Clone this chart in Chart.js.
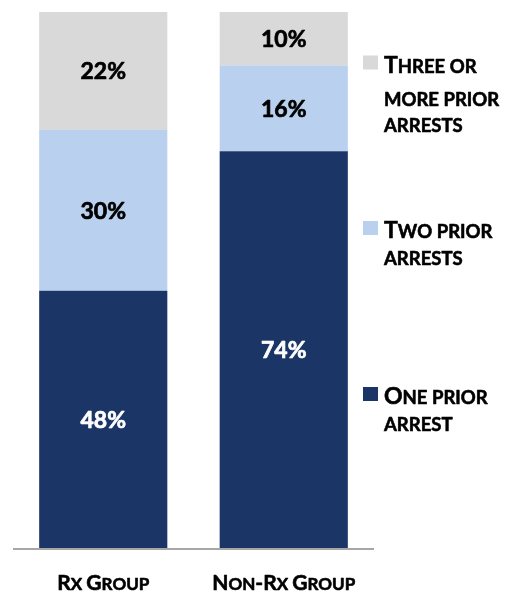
<!DOCTYPE html>
<html>
<head>
<meta charset="utf-8">
<script src="https://cdn.jsdelivr.net/npm/chart.js@4"></script>
<style>
  html, body { margin: 0; padding: 0; background: #fff; }
  #wrap { width: 514px; height: 594px; }
</style>
</head>
<body>
<div id="wrap"><canvas id="myChart" width="514" height="594"></canvas></div>
<script>
'use strict';

// data
var groups = ['Rx Group', 'Non-Rx Group'];
var seriesNames = ['One prior arrest', 'Two prior arrests', 'Three or more prior arrests'];
var onePrior = [48, 74];
var twoPrior = [30, 16];
var threePlus = [22, 10];

// legend text broken into lines like the picture
var legendLines = [
  ['Three or', 'more prior', 'arrests'],
  ['Two prior', 'arrests'],
  ['One prior', 'arrest']
];

var colors = ['#1B3566', '#B9D0EE', '#D9D9D9'];
var labelColors = ['#ffffff', '#000000', '#000000'];
var fontFamily = 'Lato, "Open Sans", sans-serif';

// split text into runs: capitals full size, lower case as smaller capitals
function smallCapsRuns(ctx, text, big, small) {
  var runs = [];
  for (var i = 0; i < text.length; i++) {
    var ch = text[i];
    var isLower = ch !== ch.toUpperCase();
    var size = isLower ? small : big;
    if (ch === ' ') size = small;
    ctx.font = 'bold ' + size + 'px ' + fontFamily;
    var t = ch.toUpperCase();
    runs.push({ t: t, font: ctx.font, w: ctx.measureText(t).width });
  }
  return runs;
}

function drawSmallCaps(ctx, text, x, y, big, small, align) {
  var runs = smallCapsRuns(ctx, text, big, small);
  var total = 0;
  runs.forEach(function (r) { total += r.w; });
  var cx = align === 'center' ? x - total / 2 : x;
  ctx.textAlign = 'left';
  runs.forEach(function (r) {
    ctx.font = r.font;
    ctx.fillText(r.t, cx, y);
    ctx.strokeText(r.t, cx, y);
    cx += r.w;
  });
}

// draws the % labels, baseline, group names and the legend
var extrasPlugin = {
  id: 'extras',
  afterDatasetsDraw: function (chart) {
    var ctx = chart.ctx;
    var area = chart.chartArea;
    var xScale = chart.scales.x;

    ctx.save();
    ctx.lineJoin = 'round';
    ctx.lineWidth = 0.7;
    // value labels
    ctx.textAlign = 'center';
    ctx.textBaseline = 'middle';
    ctx.font = 'bold 23px ' + fontFamily;
    chart.data.datasets.forEach(function (ds, i) {
      var meta = chart.getDatasetMeta(i);
      meta.data.forEach(function (bar, j) {
        var mid = (bar.y + bar.base) / 2;
        ctx.fillStyle = labelColors[i];
        ctx.strokeStyle = labelColors[i];
        ctx.fillText(ds.data[j] + '%', bar.x, mid + 1);
        ctx.strokeText(ds.data[j] + '%', bar.x, mid + 1);
      });
    });

    // baseline
    ctx.strokeStyle = '#A6A6A6';
    ctx.lineWidth = 2;
    ctx.beginPath();
    ctx.moveTo(area.left, area.bottom + 1);
    ctx.lineTo(area.right, area.bottom + 1);
    ctx.stroke();

    // group names
    ctx.fillStyle = '#000000';
    ctx.strokeStyle = '#000000';
    ctx.lineWidth = 0.6;
    ctx.textBaseline = 'alphabetic';
    groups.forEach(function (g, j) {
      drawSmallCaps(ctx, g, xScale.getPixelForValue(j), 590, 21, 17, 'center');
    });

    // legend (top item first)
    var lineY = [[72.5, 106, 131.5], [238, 265], [404, 431]];
    var boxColors = [colors[2], colors[1], colors[0]];
    legendLines.forEach(function (lines, k) {
      var ys = lineY[k];
      ctx.fillStyle = boxColors[k];
      ctx.fillRect(363, ys[0] - 17, 15, 14);
      ctx.fillStyle = '#000000';
      lines.forEach(function (txt, n) {
        drawSmallCaps(ctx, txt, 384, ys[n], 23, 18.5, 'left');
      });
    });
    ctx.restore();
  }
};

var ctx = document.getElementById('myChart').getContext('2d');
// eslint-disable-next-line no-undef, no-unused-vars
var chart = new Chart(ctx, {
  type: 'bar',
  data: {
    labels: groups,
    datasets: [
      { label: seriesNames[0], data: onePrior, backgroundColor: colors[0] },
      { label: seriesNames[1], data: twoPrior, backgroundColor: colors[1] },
      { label: seriesNames[2], data: threePlus, backgroundColor: colors[2] }
    ]
  },
  options: {
    responsive: false,
    animation: false,
    layout: { padding: { left: 13, right: 140, top: 12, bottom: 46 } },
    datasets: {
      bar: { barPercentage: 0.71, categoryPercentage: 1, borderWidth: 0 }
    },
    plugins: {
      legend: { display: false },
      tooltip: { enabled: false }
    },
    scales: {
      x: { stacked: true, display: false },
      y: { stacked: true, display: false, min: 0, max: 100 }
    }
  },
  plugins: [extrasPlugin]
});
</script>
</body>
</html>
